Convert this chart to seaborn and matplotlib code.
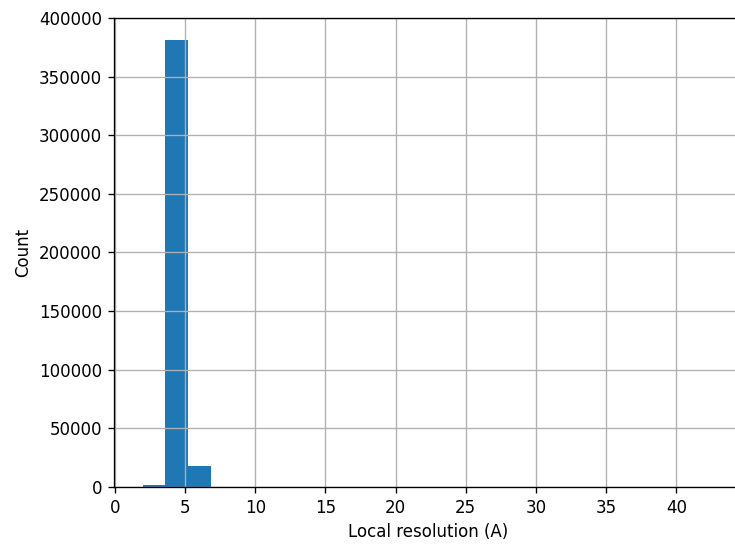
import numpy as np
import pandas as pd
import seaborn as sns
import matplotlib
matplotlib.use('Agg')
import matplotlib.pyplot as plt

# histogram bins (Angstrom) and counts
bin_start = 1.97
bin_width = 1.63
counts = [1500, 381000, 17500, 150, 70, 40, 25, 20, 15, 12,
          10, 8, 6, 5, 4, 4, 3, 3, 2, 2,
          2, 1, 1, 1, 1]

edges = bin_start + bin_width * np.arange(len(counts) + 1)
df = pd.DataFrame({'res': (edges[:-1] + edges[1:]) / 2, 'n': counts})

fig = plt.figure(figsize=(735 / 120, 544 / 120), dpi=120)
ax = fig.add_axes([0.155, 0.105, 0.856, 0.862])

sns.histplot(data=df, x='res', weights='n', bins=list(edges), ax=ax,
             color='#1f77b4', alpha=1, linewidth=0)
ax.grid(True)
ax.set_ylim(0, 400000)
ax.set_xlabel('Local resolution (A)')
ax.set_ylabel('Count')

fig.savefig('out.png', dpi=120)
